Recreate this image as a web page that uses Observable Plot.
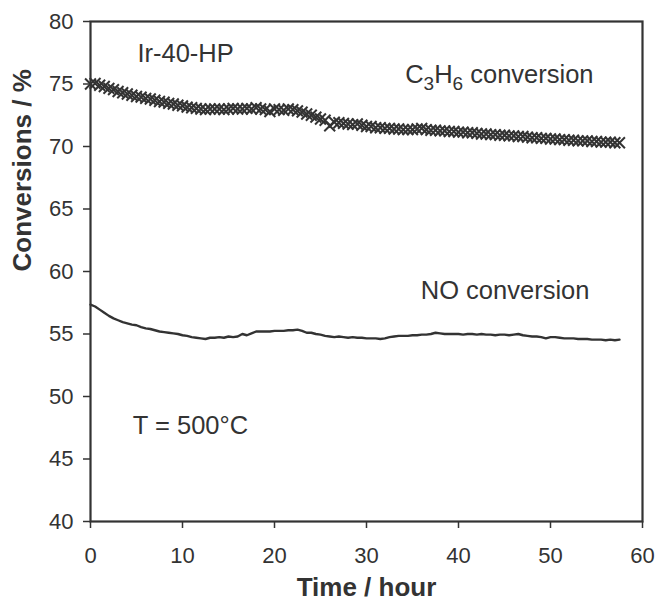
<!DOCTYPE html>
<html>
<head>
<meta charset="utf-8">
<script src="https://cdn.jsdelivr.net/npm/d3@7"></script>
<script src="https://cdn.jsdelivr.net/npm/@observablehq/plot@0.6"></script>
<style>
  html, body { margin: 0; padding: 0; background: #fff; }
  #chart svg g[aria-label="x-axis tick label"],
  #chart svg g[aria-label="y-axis tick label"] { font-size: 22px; }
</style>
</head>
<body>
<div id="chart"></div>
<script>
// Time (hour)
const time = [0,0.5,1,1.5,2,2.5,3,3.5,4,4.5,5,5.5,6,6.5,7,7.5,8,8.5,9,9.5,10,10.5,11,11.5,12,12.5,13,13.5,14,14.5,15,15.5,16,16.5,17,17.5,18,18.5,19,19.5,20,20.5,21,21.5,22,22.5,23,23.5,24,24.5,25,25.5,26,26.5,27,27.5,28,28.5,29,29.5,30,30.5,31,31.5,32,32.5,33,33.5,34,34.5,35,35.5,36,36.5,37,37.5,38,38.5,39,39.5,40,40.5,41,41.5,42,42.5,43,43.5,44,44.5,45,45.5,46,46.5,47,47.5,48,48.5,49,49.5,50,50.5,51,51.5,52,52.5,53,53.5,54,54.5,55,55.5,56,56.5,57,57.5];

// C3H6 conversion (%)
const c3h6 = [75.0,75.05,74.9,74.8,74.65,74.55,74.4,74.3,74.2,74.1,74.0,73.95,73.85,73.8,73.7,73.6,73.55,73.45,73.4,73.3,73.25,73.15,73.1,73.05,73.0,72.95,73.0,73.0,73.0,72.95,73.0,73.05,73.0,73.0,73.05,73.0,73.1,73.0,72.95,72.8,73.0,72.95,72.9,73.0,72.95,72.85,72.75,72.6,72.5,72.35,72.2,72.1,71.65,71.95,71.9,71.85,71.8,71.75,71.8,71.7,71.6,71.6,71.5,71.5,71.45,71.45,71.4,71.4,71.35,71.35,71.35,71.4,71.45,71.35,71.3,71.3,71.25,71.25,71.2,71.2,71.15,71.15,71.1,71.1,71.05,71.0,71.0,70.95,70.95,70.9,70.9,70.85,70.85,70.8,70.8,70.75,70.7,70.7,70.65,70.65,70.6,70.6,70.55,70.55,70.5,70.5,70.45,70.45,70.45,70.4,70.4,70.35,70.35,70.35,70.3,70.3];

// NO conversion (%)
const no = [57.35,57.2,56.95,56.7,56.45,56.25,56.1,55.95,55.85,55.75,55.7,55.55,55.45,55.4,55.3,55.2,55.15,55.1,55.05,55.0,54.9,54.85,54.75,54.7,54.65,54.6,54.7,54.7,54.75,54.7,54.8,54.75,54.8,55.0,54.9,55.05,55.2,55.2,55.2,55.2,55.25,55.25,55.25,55.3,55.3,55.35,55.25,55.1,55.1,55.0,54.95,54.85,54.8,54.75,54.8,54.75,54.7,54.75,54.7,54.7,54.65,54.65,54.65,54.6,54.65,54.75,54.8,54.85,54.85,54.85,54.9,54.9,54.95,54.95,55.0,55.1,55.05,55.0,55.0,55.0,55.0,54.95,55.0,55.0,54.95,55.0,54.95,54.95,54.9,54.95,54.95,54.9,54.95,55.0,54.9,54.85,54.8,54.8,54.75,54.65,54.75,54.75,54.7,54.65,54.65,54.65,54.6,54.6,54.6,54.55,54.55,54.55,54.5,54.55,54.5,54.55];

// Tick values
const xTicks = [0, 10, 20, 30, 40, 50, 60];
const yTicks = [40, 45, 50, 55, 60, 65, 70, 75, 80];

// Annotations
const labelText = ["Ir-40-HP", "C3H6 conversion", "NO conversion", "T = 500°C"];
const labelX = [5.1, 34.2, 35.9, 4.6];
const labelY = [76.8, 75.1, 57.84, 47.04];

const xTitle = "Time / hour";
const yTitle = "Conversions / %";

const ink = "#333";
const rowsC = time.map((t, i) => ({t, v: c3h6[i]}));
const rowsN = time.map((t, i) => ({t, v: no[i]}));
const labels = labelText.map((s, i) => ({s, x: labelX[i], y: labelY[i]}));

const chart = Plot.plot({
  width: 655,
  height: 605,
  marginLeft: 90,
  marginRight: 13,
  marginTop: 21,
  marginBottom: 84,
  style: {fontFamily: "'Liberation Sans', Arial, sans-serif", fontSize: "22px", color: ink, background: "#fff"},
  x: {domain: [0, 60]},
  y: {domain: [40, 80]},
  marks: [
    Plot.axisX({ticks: xTicks, tickSize: 7, tickPadding: 19, strokeWidth: 1.5, label: null, fontSize: 22}),
    Plot.axisY({ticks: yTicks, tickSize: 7, tickPadding: 10, strokeWidth: 1.5, label: null, fontSize: 22}),
    Plot.line(rowsN, {x: "t", y: "v", stroke: ink, strokeWidth: 2.4}),
    Plot.dot(rowsC, {x: "t", y: "v", symbol: "times", r: 5, stroke: ink, strokeWidth: 2}),
    Plot.text(labels, {x: "x", y: "y", text: "s", textAnchor: "start", lineAnchor: "bottom", fontSize: 25.5, fill: ink}),
    Plot.text([xTitle], {frameAnchor: "bottom", dy: 74, fontSize: 26, fontWeight: "bold", fill: ink}),
    Plot.text([yTitle], {frameAnchor: "left", dx: -68, rotate: -90, fontSize: 26, fontWeight: "bold", fill: ink}),
    Plot.frame({stroke: ink, strokeWidth: 2.2})
  ]
});

document.getElementById("chart").appendChild(chart);

// Render subscripts in "C3H6 conversion"
chart.querySelectorAll("text").forEach(el => {
  if (el.textContent === "C3H6 conversion") {
    const ns = "http://www.w3.org/2000/svg";
    while (el.firstChild) el.removeChild(el.firstChild);
    const parts = [["C", 0], ["3", 1], ["H", 0], ["6", 1], [" conversion", 0]];
    let prevSub = 0;
    for (const [txt, sub] of parts) {
      const ts = document.createElementNS(ns, "tspan");
      const shift = sub - prevSub;
      if (shift !== 0) ts.setAttribute("dy", shift > 0 ? "7" : "-7");
      if (sub) ts.setAttribute("font-size", "19");
      ts.textContent = txt;
      el.appendChild(ts);
      prevSub = sub;
    }
  }
});
</script>
</body>
</html>
